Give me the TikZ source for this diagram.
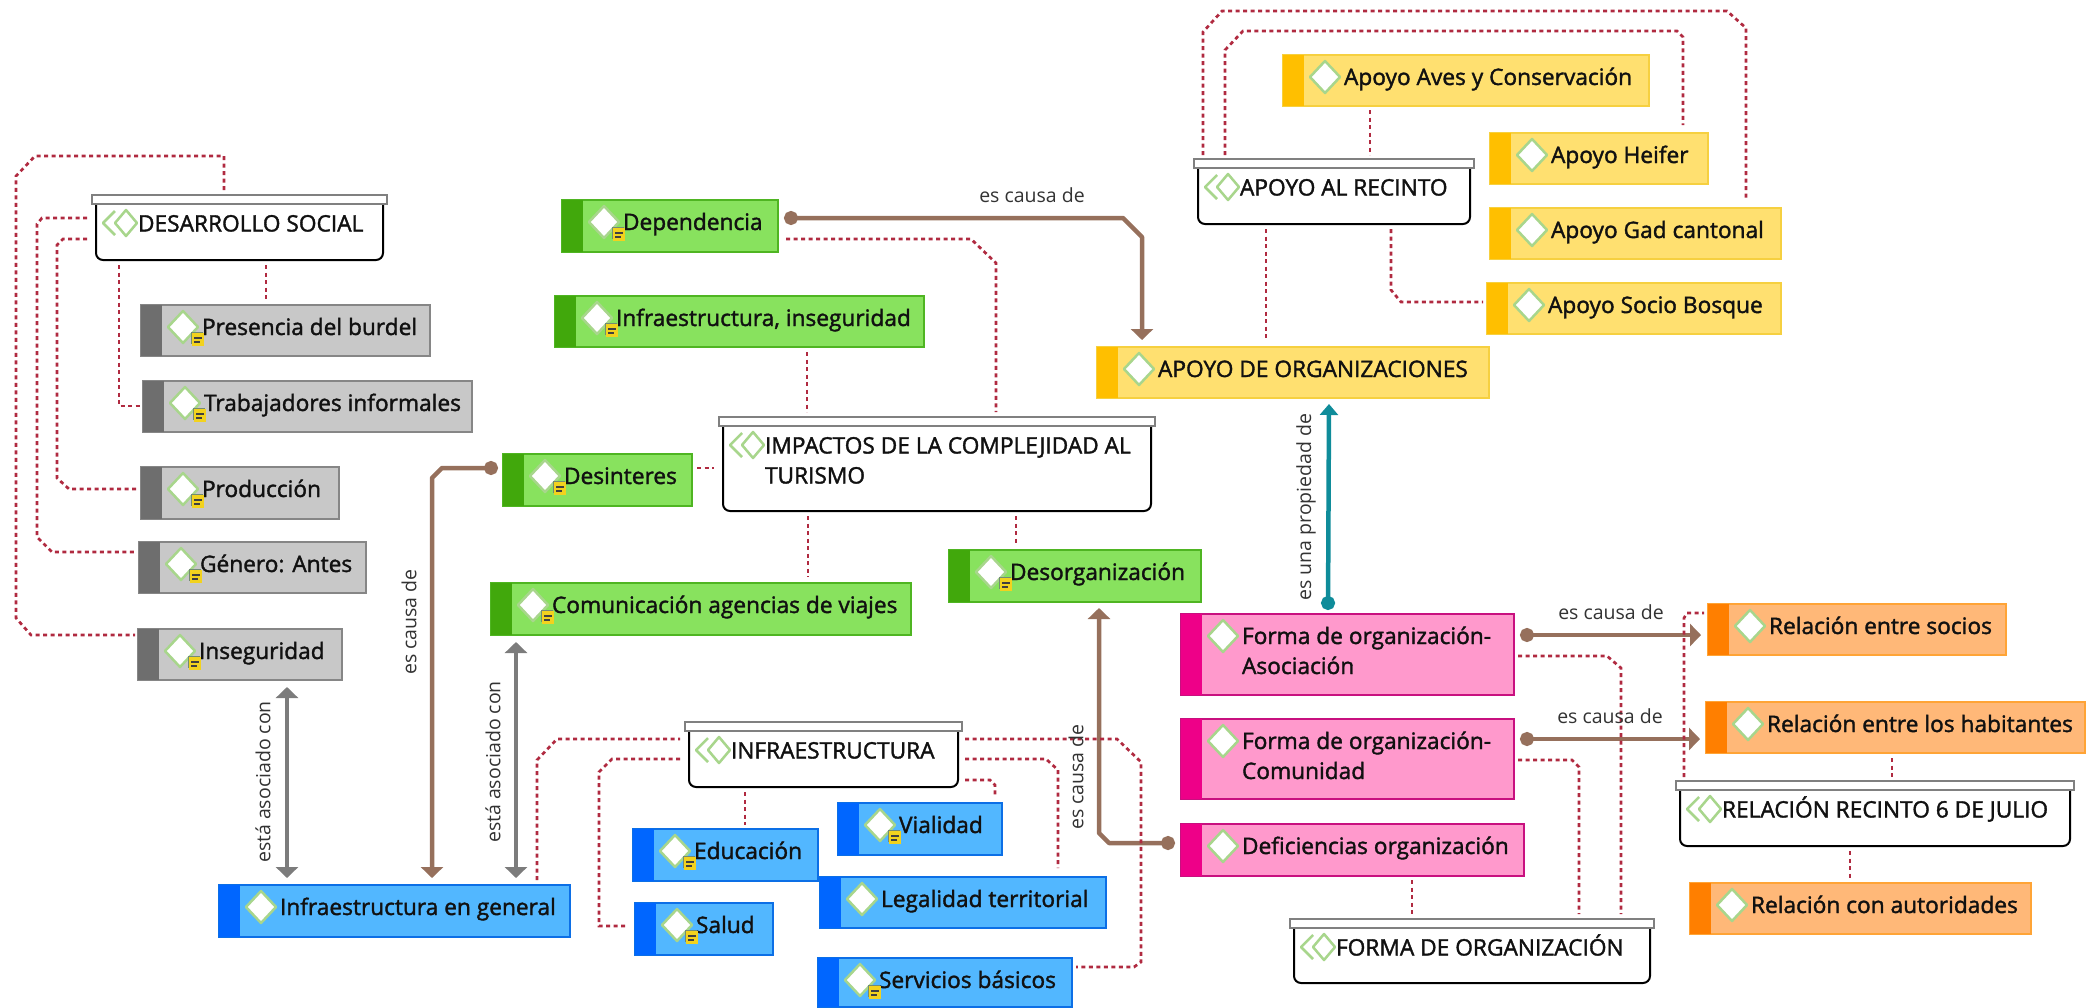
\documentclass[tikz,border=0pt]{standalone}
\usepackage{fontspec}
\usetikzlibrary{arrows.meta}
\setmainfont{Open Sans}[FakeBold=1.6]
\newfontfamily\lblfont{Open Sans}
\definecolor{grF}{HTML}{C8C8C8}\definecolor{grS}{HTML}{6E6E6E}\definecolor{grB}{HTML}{868686}
\definecolor{gnF}{HTML}{88E25E}\definecolor{gnS}{HTML}{41A80C}\definecolor{gnB}{HTML}{4FB522}
\definecolor{blF}{HTML}{52B7FF}\definecolor{blS}{HTML}{0066FF}\definecolor{blB}{HTML}{0C6FE6}
\definecolor{yeF}{HTML}{FFE070}\definecolor{yeS}{HTML}{FFBF00}\definecolor{yeB}{HTML}{F6D040}
\definecolor{piF}{HTML}{FF99CC}\definecolor{piS}{HTML}{EE0088}\definecolor{piB}{HTML}{C8107F}
\definecolor{orF}{HTML}{FFB878}\definecolor{orS}{HTML}{FF7F00}\definecolor{orB}{HTML}{FFA436}
\definecolor{relred}{HTML}{B02A40}\definecolor{causec}{HTML}{96705C}\definecolor{assocc}{HTML}{7C7C7C}
\definecolor{propc}{HTML}{0F8C9A}\definecolor{iconc}{HTML}{A8D68C}\definecolor{notec}{HTML}{F2D21E}
\definecolor{txtc}{HTML}{111111}\definecolor{lblc}{HTML}{333333}
\tikzset{
  x=1pt,y=-1pt,
  entbox/.style={inner sep=0pt,outer sep=0pt,line width=2pt,text=txtc},
  grpbox/.style={inner sep=0pt,outer sep=0pt,text=txtc},
  rel/.style={draw=relred,line width=2.7pt,dash pattern=on 4pt off 3.5pt},
  cause/.style={draw=causec,line width=4.5pt,line join=round,{Circle[length=14pt]}-{Triangle[width=22pt,length=11pt]}},
  assoc/.style={draw=assocc,line width=4.5pt,{Triangle[width=22pt,length=11pt]}-{Triangle[width=22pt,length=11pt]}},
  prop/.style={draw=propc,line width=4.5pt,{Circle[length=14pt]}-{Triangle[width=18pt,length=11pt]}},
  lbl/.style={inner sep=0pt,outer sep=0pt,text=lblc,font=\lblfont\fontsize{19.5}{23}\selectfont},
  icon/.style={draw=iconc,fill=white,line width=2.5pt,line join=round},
}
% name x0 y0 x1 y1 colour note text
\newcommand\ent[8]{%
  \pgfmathsetmacro\bw{#4-#2}\pgfmathsetmacro\bh{#5-#3}%
  \pgfmathsetmacro\bx{(#2+#4)/2}\pgfmathsetmacro\by{(#3+#5)/2}%
  \pgfmathsetmacro\bd{4+2*(\bh/2-22)}%
  \node[entbox,draw=#6B,fill=#6F,minimum width=\bw pt,minimum height=\bh pt] (#1) at (\bx,\by)
    {\makebox[\bw pt][l]{\hspace*{61pt}\raisebox{0pt}[20pt][\bd pt]{\fontsize{22.7}{30}\selectfont\begin{tabular}[t]{@{}l@{}}#8\end{tabular}}}};
  \fill[#6S] (#2,#3) rectangle ({#2+21},#5);
  \path[icon] ({#2+27},{#3+22}) -- ({#2+42},{#3+6}) -- ({#2+57},{#3+22}) -- ({#2+42},{#3+38}) -- cycle;
  \ifnum#7=1
    \fill[gray!90!green] ({#2+50},{#3+27}) rectangle ({#2+62},{#3+39});
    \fill[notec] ({#2+51},{#3+28}) rectangle ({#2+63},{#3+41});
    \fill[black!75] ({#2+53},{#3+32}) rectangle ({#2+61},{#3+33.5});
    \fill[black!75] ({#2+53},{#3+36}) rectangle ({#2+59},{#3+37.5});
  \fi
}
% name x0 y0 x1 y1 text
\newcommand\grp[6]{%
  \pgfmathsetmacro\bw{#4-#2}\pgfmathsetmacro\bh{#5-#3}%
  \pgfmathsetmacro\bx{(#2+#4)/2}\pgfmathsetmacro\by{(#3+#5)/2}%
  \pgfmathsetmacro\bd{4+2*(\bh/2-28.5)}%
  \draw[black,line width=2pt,fill=white,rounded corners=7pt] ({#2+4},{#3+5}) -- ({#2+4},#5) -- ({#4-4},#5) -- ({#4-4},{#3+5});
  \draw[gray,line width=2pt,fill=white] (#2,#3) rectangle (#4,{#3+9});
  \node[grpbox,minimum width=\bw pt,minimum height=\bh pt] (#1) at (\bx,\by)
    {\makebox[\bw pt][l]{\hspace*{46pt}\raisebox{0pt}[20pt][\bd pt]{\fontsize{22.7}{30}\selectfont\begin{tabular}[t]{@{}l@{}}#6\end{tabular}}}};
  \draw[iconc,line width=2.5pt,line join=round] ({#2+23},{#3+16}) -- ({#2+11},{#3+28}) -- ({#2+23},{#3+40});
  \path[icon] ({#2+23},{#3+28}) -- ({#2+34},{#3+15}) -- ({#2+45},{#3+28}) -- ({#2+34},{#3+41}) -- cycle;
}
\begin{document}
\begin{tikzpicture}
\path[use as bounding box] (0,0) rectangle (2092,1007);
% groups
\grp{ds}{92}{195}{387}{260}{DESARROLLO SOCIAL}
\grp{imp}{719}{417}{1155}{511}{IMPACTOS DE LA COMPLEJIDAD AL\\TURISMO}
\grp{infra}{685}{722}{962}{787}{INFRAESTRUCTURA}
\grp{rec}{1194}{159}{1474}{224}{APOYO AL RECINTO}
\grp{fo}{1290}{919}{1654}{983}{FORMA DE ORGANIZACIÓN}
\grp{rsix}{1676}{781}{2074}{846}{RELACIÓN RECINTO 6 DE JULIO}
% entities
\ent{pres}{141}{305}{430}{356}{gr}{1}{Presencia del burdel}
\ent{trab}{143}{381}{472}{432}{gr}{1}{Trabajadores informales}
\ent{prod}{141}{467}{339}{519}{gr}{1}{Producción}
\ent{gen}{139}{542}{366}{593}{gr}{1}{Género: Antes}
\ent{inseg}{138}{629}{342}{680}{gr}{1}{Inseguridad}
\ent{desint}{503}{454}{692}{506}{gn}{1}{Desinteres}
\ent{comun}{491}{583}{911}{635}{gn}{1}{Comunicación agencias de viajes}
\ent{dep}{562}{200}{778}{252}{gn}{1}{Dependencia}
\ent{infs}{555}{296}{924}{347}{gn}{1}{Infraestructura, inseguridad}
\ent{desorg}{949}{550}{1201}{602}{gn}{1}{Desorganización}
\ent{igen}{219}{885}{570}{937}{bl}{0}{Infraestructura en general}
\ent{edu}{633}{829}{818}{881}{bl}{1}{Educación}
\ent{vial}{838}{803}{1002}{855}{bl}{1}{Vialidad}
\ent{legal}{820}{877}{1106}{928}{bl}{0}{Legalidad territorial}
\ent{salud}{635}{903}{773}{955}{bl}{1}{Salud}
\ent{serv}{818}{958}{1072}{1007}{bl}{1}{Servicios básicos}
\ent{org}{1097}{347}{1489}{398}{ye}{0}{APOYO DE ORGANIZACIONES}
\ent{aves}{1283}{55}{1649}{106}{ye}{0}{Apoyo Aves y Conservación}
\ent{heif}{1490}{133}{1708}{184}{ye}{0}{Apoyo Heifer}
\ent{gad}{1490}{208}{1781}{259}{ye}{0}{Apoyo Gad cantonal}
\ent{socio}{1487}{283}{1781}{334}{ye}{0}{Apoyo Socio Bosque}
\ent{asoc}{1181}{614}{1514}{695}{pi}{0}{Forma de organización-\\Asociación}
\ent{comd}{1181}{719}{1514}{799}{pi}{0}{Forma de organización-\\Comunidad}
\ent{defi}{1181}{824}{1524}{876}{pi}{0}{Deficiencias organización}
\ent{rsoc}{1708}{604}{2006}{655}{or}{0}{Relación entre socios}
\ent{rhab}{1706}{702}{2085}{753}{or}{0}{Relación entre los habitantes}
\ent{raut}{1690}{883}{2031}{934}{or}{0}{Relación con autoridades}
% typed relations
\draw[cause] ([shift={(222,18)}]dep.north west) -- (1123,218) -- (1142,237) -- ([shift={(45,-7)}]org.north west);
\draw[cause] ([shift={(-5,14)}]desint.north west) -- (442,468) -- (432,478) -- ([shift={(213,-7)}]igen.north west);
\draw[cause] ([shift={(-6,19)}]defi.north west) -- (1109,843) -- (1099,833) -- ([shift={(150,6)}]desorg.south west);
\draw[cause] ([shift={(6,21)}]asoc.north east) -- ([shift={(-7,31)}]rsoc.north west);
\draw[cause] ([shift={(6,20)}]comd.north east) -- ([shift={(-6,37)}]rhab.north west);
\draw[assoc] ([shift={(149,7)}]inseg.south west) -- ([shift={(68,-7)}]igen.north west);
\draw[assoc] ([shift={(25,7)}]comun.south west) -- ([shift={(297,-7)}]igen.north west);
\draw[prop] ([shift={(147,-4)}]asoc.north west) -- ([shift={(232,6)}]org.south west);
% part-of relations
\draw[rel] ([shift={(132,-5)}]ds.north west) -- (224,156) -- (35,156) -- (16,176) -- (16,618) -- (31,635) -- ([shift={(-3,6)}]inseg.north west);
\draw[rel] ([shift={(-5,23)}]ds.north west) -- (42,218) -- (37,224) -- (37,537) -- (52,552) -- ([shift={(-5,10)}]gen.north west);
\draw[rel] ([shift={(-5,44)}]ds.north west) -- (63,239) -- (57,245) -- (57,478) -- (69,489) -- ([shift={(-4,22)}]prod.north west);
\draw[rel] ([shift={(174,5)}]ds.south west) -- ([shift={(125,-4)}]pres.north west);
\draw[rel] ([shift={(27,5)}]ds.south west) -- (119,406) -- ([shift={(-3,25)}]trab.north west);
\draw[rel] ([shift={(224,39)}]dep.north west) -- (971,239) -- (996,263) -- ([shift={(277,-5)}]imp.north west);
\draw[rel] ([shift={(252,56)}]infs.north west) -- ([shift={(88,-5)}]imp.north west);
\draw[rel] ([shift={(194,14)}]desint.north west) -- ([shift={(-5,51)}]imp.north west);
\draw[rel] ([shift={(89,5)}]imp.south west) -- ([shift={(317,-6)}]comun.north west);
\draw[rel] ([shift={(297,5)}]imp.south west) -- ([shift={(67,-7)}]desorg.north west);
\draw[rel] ([shift={(318,-5)}]igen.north west) -- (537,760) -- (557,739) -- ([shift={(-5,17)}]infra.north west);
\draw[rel] ([shift={(-5,37)}]infra.north west) -- (612,759) -- (599,772) -- (599,926) -- ([shift={(-8,23)}]salud.north west);
\draw[rel] ([shift={(60,5)}]infra.south west) -- ([shift={(112,-4)}]edu.north west);
\draw[rel] ([shift={(3,58)}]infra.north east) -- (990,780) -- (995,785) -- ([shift={(157,-8)}]vial.north west);
\draw[rel] ([shift={(3,37)}]infra.north east) -- (1046,759) -- (1058,770) -- ([shift={(238,-9)}]legal.north west);
\draw[rel] ([shift={(3,17)}]infra.north east) -- (1117,739) -- (1141,762) -- (1141,962) -- (1134,967) -- ([shift={(258,9)}]serv.north west);
\draw[rel] ([shift={(9,-4)}]rec.north west) -- (1203,32) -- (1222,11) -- (1727,11) -- (1746,28) -- ([shift={(256,-8)}]gad.north west);
\draw[rel] ([shift={(31,-4)}]rec.north west) -- (1225,50) -- (1243,31) -- (1677,31) -- (1683,37) -- ([shift={(193,-8)}]heif.north west);
\draw[rel] ([shift={(87,4)}]aves.south west) -- ([shift={(176,-4)}]rec.north west);
\draw[rel] ([shift={(72,5)}]rec.south west) -- ([shift={(169,-7)}]org.north west);
\draw[rel] ([shift={(197,5)}]rec.south west) -- (1391,290) -- (1401,302) -- ([shift={(-4,19)}]socio.north west);
\draw[rel] ([shift={(4,42)}]asoc.north east) -- (1607,656) -- (1621,668) -- ([shift={(331,-5)}]fo.north west);
\draw[rel] ([shift={(4,41)}]comd.north east) -- (1572,760) -- (1579,767) -- ([shift={(289,-5)}]fo.north west);
\draw[rel] ([shift={(231,4)}]defi.south west) -- ([shift={(122,-5)}]fo.north west);
\draw[rel] ([shift={(8,-4)}]rsix.north west) -- (1684,618) -- (1687,613) -- ([shift={(-4,9)}]rsoc.north west);
\draw[rel] ([shift={(186,5)}]rhab.south west) -- ([shift={(216,-4)}]rsix.north west);
\draw[rel] ([shift={(174,5)}]rsix.south west) -- ([shift={(160,-5)}]raut.north west);
% labels
\node[lbl] (l1) at (1032,195) {es causa de};
\node[lbl] (l2) at (1611,612) {es causa de};
\node[lbl] (l3) at (1610,716) {es causa de};
\node[lbl,rotate=90] (l4) at (409,622) {es causa de};
\node[lbl,rotate=90] (l5) at (1076,777) {es causa de};
\node[lbl,rotate=90] (l6) at (263,782) {está asociado con};
\node[lbl,rotate=90] (l7) at (493,762) {está asociado con};
\node[lbl,rotate=90] (l8) at (1306,507) {es una propiedad de};
\end{tikzpicture}
\end{document}
